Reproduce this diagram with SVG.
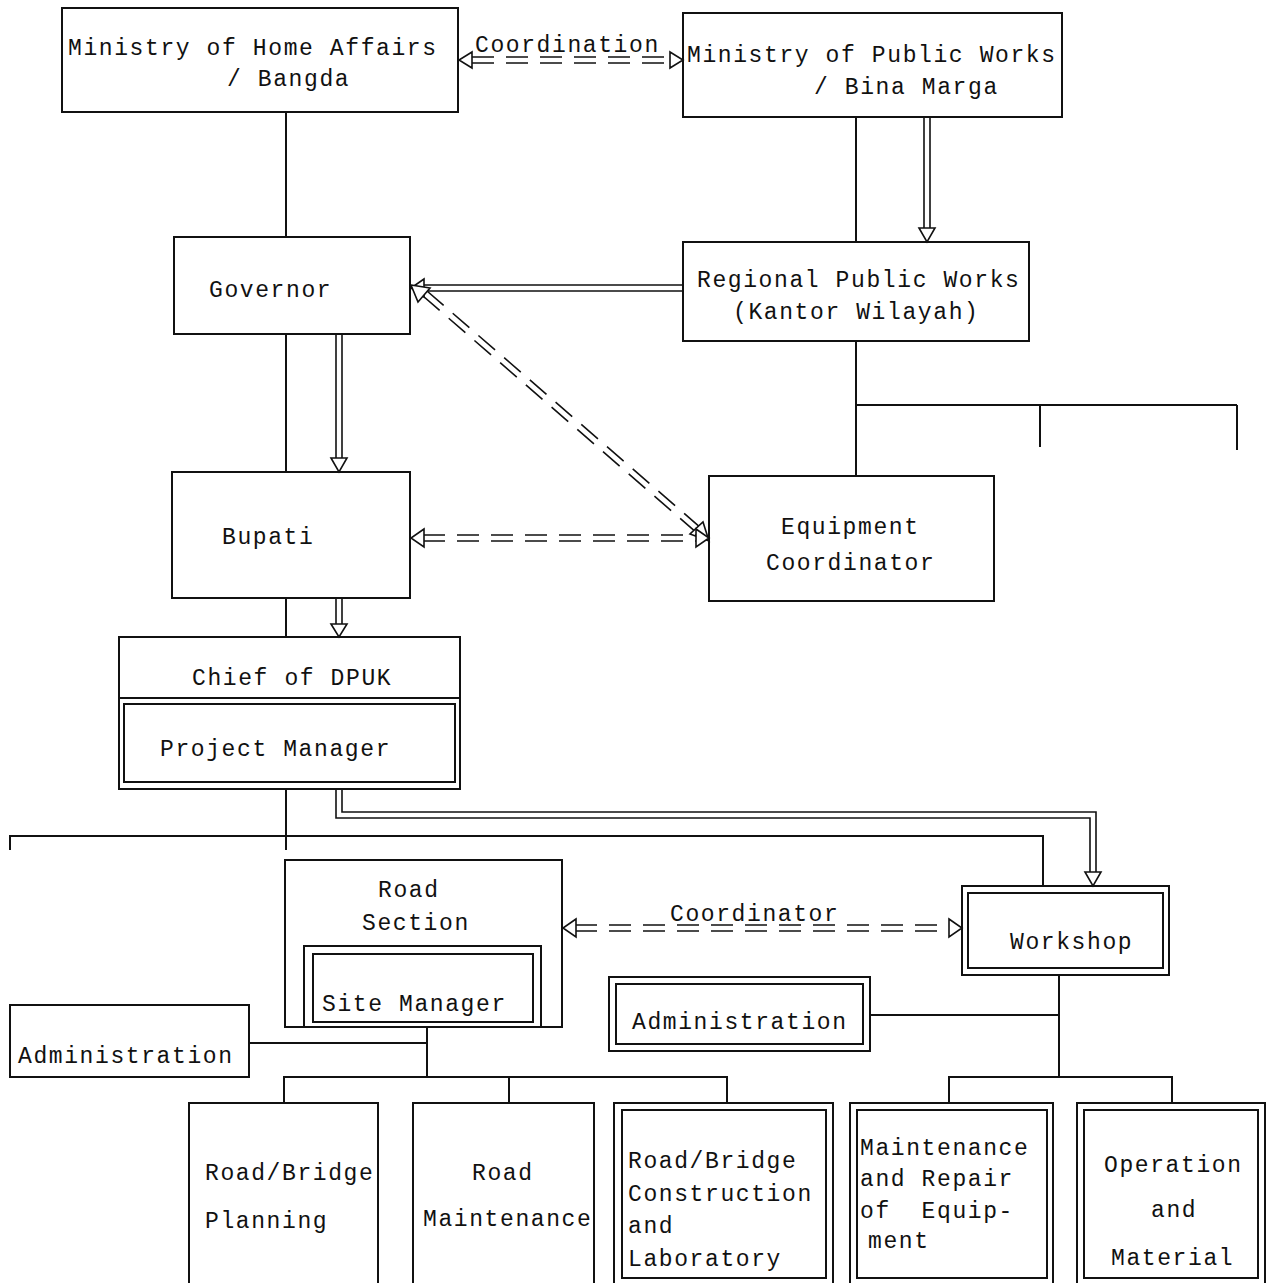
<svg xmlns="http://www.w3.org/2000/svg" width="1267" height="1283" viewBox="0 0 1267 1283">
<style>
.b{fill:none;stroke:#111;stroke-width:2}
.l{fill:none;stroke:#111;stroke-width:2}
.t{font-family:"Liberation Mono","DejaVu Sans Mono",monospace;font-size:23px;letter-spacing:1.6px;fill:#111}
.d{fill:none;stroke:#111;stroke-width:1.6;stroke-dasharray:22 12}
.s{fill:none;stroke:#111;stroke-width:1.6}
.h{fill:#fff;stroke:#111;stroke-width:1.6;stroke-linejoin:miter}
</style>
<rect width="1267" height="1283" fill="#fff"/>

<g id="connectors">
  <path class="l" d="M286,112 V237"/>
  <path class="l" d="M856,117 V242"/>
  <path class="l" d="M286,334 V472"/>
  <path class="l" d="M286,598 V637"/>
  <path class="l" d="M856,341 V476"/>
  <path class="l" d="M856,405 H1237 M1040,405 V447 M1237,405 V450"/>
  <path class="l" d="M286,789 V850"/>
  <path class="l" d="M10,850 V836 H1043 V886"/>
  <path class="l" d="M427,1027 V1077 M249,1043 H427 M284,1103 V1077 H727 V1103 M509,1077 V1103"/>
  <path class="l" d="M1059,975 V1077 M870,1015 H1059 M949,1103 V1077 H1172 V1103"/>

  <path class="s" d="M924,117 V230 M930,117 V230"/>
  <path class="h" d="M919,228 L927,242 L935,228 Z"/>
  <path class="s" d="M683,285 H422 M683,291 H422"/>
  <path class="h" d="M424,279 L411,288 L424,297 Z"/>
  <path class="s" d="M336,334 V460 M342,334 V460"/>
  <path class="h" d="M331,458 L339,472 L347,458 Z"/>
  <path class="s" d="M336,598 V626 M342,598 V626"/>
  <path class="h" d="M331,624 L339,637 L347,624 Z"/>
  <path class="s" d="M336,789 V818 H1090 V874 M342,789 V812 H1096 V874"/>
  <path class="h" d="M1085,872 L1093,886 L1101,872 Z"/>

  <path class="d" d="M472,57 H671 M472,63 H671"/>
  <path class="h" d="M472,52 L459,60 L472,68 Z"/>
  <path class="h" d="M670,52 L683,60 L670,68 Z"/>
  <text class="t" x="475" y="52">Coordination</text>

  <path class="d" d="M423,296 L697,533 M427,291 L701,528"/>
  <path class="h" d="M430,288 L411,285 L418,302 Z"/>
  <path class="h" d="M690,534 L709,541 L703,522 Z"/>

  <path class="d" d="M423,535 H697 M423,541 H697"/>
  <path class="h" d="M424,529 L411,538 L424,547 Z"/>
  <path class="h" d="M696,529 L709,538 L696,547 Z"/>

  <path class="d" d="M575,925 H950 M575,931 H950"/>
  <path class="h" d="M576,919 L563,928 L576,937 Z"/>
  <path class="h" d="M949,919 L962,928 L949,937 Z"/>
  <text class="t" x="670" y="921">Coordinator</text>
</g>

<g id="moha">
  <rect class="b" x="62" y="8" width="396" height="104"/>
  <text class="t" x="68" y="55">Ministry of Home Affairs</text>
  <text class="t" x="227" y="86">/ Bangda</text>
</g>
<g id="mopw">
  <rect class="b" x="683" y="13" width="379" height="104"/>
  <text class="t" x="687" y="62">Ministry of Public Works</text>
  <text class="t" x="814" y="94">/ Bina Marga</text>
</g>
<g id="governor">
  <rect class="b" x="174" y="237" width="236" height="97"/>
  <text class="t" x="209" y="297">Governor</text>
</g>
<g id="regional">
  <rect class="b" x="683" y="242" width="346" height="99"/>
  <text class="t" x="697" y="287">Regional Public Works</text>
  <text class="t" x="733" y="319">(Kantor Wilayah)</text>
</g>
<g id="bupati">
  <rect class="b" x="172" y="472" width="238" height="126"/>
  <text class="t" x="222" y="544">Bupati</text>
</g>
<g id="equipment">
  <rect class="b" x="709" y="476" width="285" height="125"/>
  <text class="t" x="781" y="534">Equipment</text>
  <text class="t" x="766" y="570">Coordinator</text>
</g>
<g id="chief">
  <rect class="b" x="119" y="637" width="341" height="152"/>
  <path class="l" d="M119,698 H460"/>
  <rect class="b" x="124" y="704" width="331" height="78"/>
  <text class="t" x="192" y="685">Chief of DPUK</text>
  <text class="t" x="160" y="756">Project Manager</text>
</g>
<g id="roadsection">
  <rect class="b" x="285" y="860" width="277" height="167"/>
  <text class="t" x="378" y="897">Road</text>
  <text class="t" x="362" y="930">Section</text>
  <rect class="b" x="304" y="946" width="237" height="81"/>
  <rect class="b" x="313" y="954" width="220" height="68"/>
  <text class="t" x="322" y="1011">Site Manager</text>
</g>
<g id="workshop">
  <rect class="b" x="962" y="886" width="207" height="89"/>
  <rect class="b" x="968" y="893" width="195" height="75"/>
  <text class="t" x="1010" y="949">Workshop</text>
</g>
<g id="admin-workshop">
  <rect class="b" x="609" y="977" width="261" height="74"/>
  <rect class="b" x="616" y="984" width="247" height="60"/>
  <text class="t" x="632" y="1029">Administration</text>
</g>
<g id="admin-road">
  <rect class="b" x="10" y="1005" width="239" height="72"/>
  <text class="t" x="18" y="1063">Administration</text>
</g>
<g id="planning">
  <path class="b" d="M189,1283 V1103 H378 V1283"/>
  <text class="t" x="205" y="1180">Road/Bridge</text>
  <text class="t" x="205" y="1228">Planning</text>
</g>
<g id="maintenance">
  <path class="b" d="M413,1283 V1103 H594 V1283"/>
  <text class="t" x="472" y="1180">Road</text>
  <text class="t" x="423" y="1226">Maintenance</text>
</g>
<g id="construction">
  <path class="b" d="M614,1283 V1103 H833 V1283"/>
  <rect class="b" x="622" y="1110" width="204" height="168"/>
  <text class="t" x="628" y="1168">Road/Bridge</text>
  <text class="t" x="628" y="1201">Construction</text>
  <text class="t" x="628" y="1233">and</text>
  <text class="t" x="628" y="1266">Laboratory</text>
</g>
<g id="repair">
  <path class="b" d="M850,1283 V1103 H1053 V1283"/>
  <rect class="b" x="857" y="1110" width="190" height="168"/>
  <text class="t" x="860" y="1155">Maintenance</text>
  <text class="t" x="860" y="1186">and Repair</text>
  <text class="t" x="860" y="1218" xml:space="preserve">of  Equip-</text>
  <text class="t" x="868" y="1248">ment</text>
</g>
<g id="operation">
  <path class="b" d="M1077,1283 V1103 H1265 V1283"/>
  <rect class="b" x="1084" y="1110" width="174" height="168"/>
  <text class="t" x="1104" y="1172">Operation</text>
  <text class="t" x="1151" y="1217">and</text>
  <text class="t" x="1111" y="1265">Material</text>
</g>
</svg>
